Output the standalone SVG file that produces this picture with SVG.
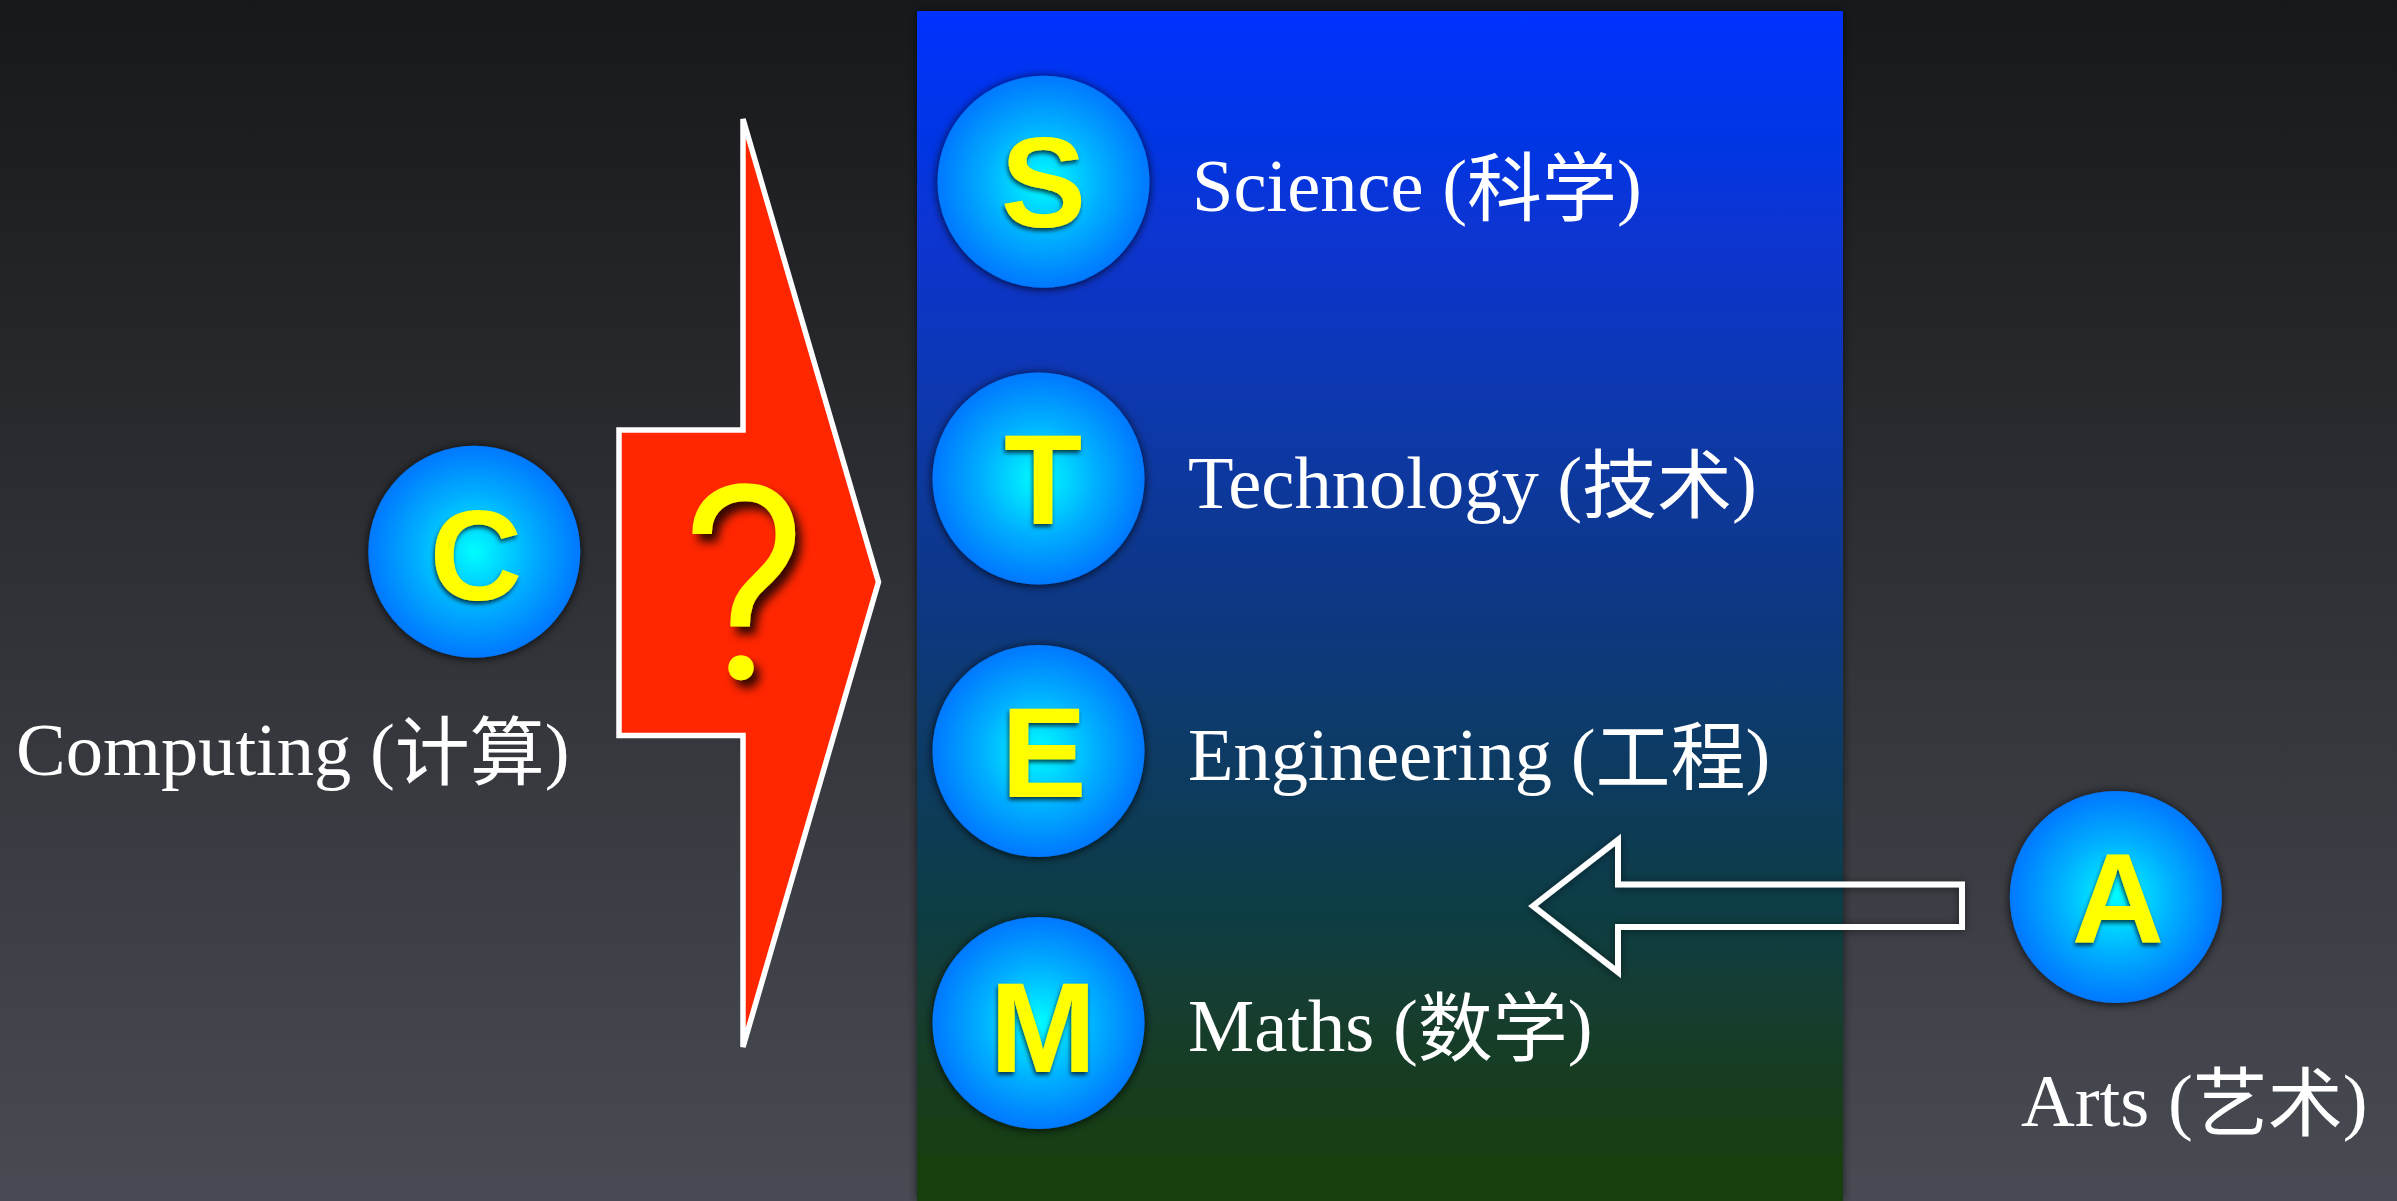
<svg xmlns="http://www.w3.org/2000/svg" width="2397" height="1201" viewBox="0 0 2397 1201">
<style>
.lbl{font-family:"Liberation Serif","Noto Sans CJK SC",serif;font-size:74.500px;fill:#fff}
.cjk{font-family:"Noto Sans CJK SC",sans-serif;font-size:75px}
.ltr{font-family:"Liberation Sans",Arial,sans-serif;font-weight:700;font-size:128px;fill:#ff0;text-anchor:middle;filter:url(#ts)}
.c{fill:url(#ball);filter:url(#cs)}
</style>
<defs>
<linearGradient id="bg" x1="0" y1="0" x2="0" y2="1"><stop offset="0" stop-color="#17181a"/><stop offset="1" stop-color="#484b53"/></linearGradient>
<linearGradient id="pn" x1="0" y1="0" x2="0" y2="1"><stop offset="0" stop-color="#0433ff"/><stop offset="1" stop-color="#153f08"/></linearGradient>
<radialGradient id="ball" cx="0.5" cy="0.5" r="0.5"><stop offset="0" stop-color="#00fdff"/><stop offset="0.55" stop-color="#00aeff"/><stop offset="1" stop-color="#0078ff"/></radialGradient>
<filter id="cs" x="-20%" y="-20%" width="140%" height="140%"><feDropShadow dx="0" dy="1" stdDeviation="5" flood-color="#000" flood-opacity=".85"/></filter>
<filter id="ts" x="-20%" y="-20%" width="140%" height="140%"><feDropShadow dx="-1" dy="3" stdDeviation="2" flood-color="#000" flood-opacity=".7"/></filter>
<filter id="qs" x="-30%" y="-20%" width="160%" height="140%"><feDropShadow dx="6" dy="8" stdDeviation="5" flood-color="#000" flood-opacity=".8"/></filter>
<filter id="ps" x="-3%" y="-3%" width="106%" height="106%"><feDropShadow dx="0" dy="0" stdDeviation="5" flood-color="#000" flood-opacity=".6"/></filter>
<filter id="as" x="-5%" y="-10%" width="110%" height="120%"><feDropShadow dx="0" dy="1" stdDeviation="4" flood-color="#000" flood-opacity=".5"/></filter>
</defs>
<rect width="2397" height="1201" fill="url(#bg)"/>
<rect id="panel" x="917" y="11" width="926" height="1190" fill="url(#pn)" filter="url(#ps)"/>
<g id="connectors">
<path id="red-arrow" d="M743 119L878.500 582L743 1047V735.500H619V430H743Z" fill="#ff2600" stroke="#fff" stroke-width="5.500"/>
<path id="arts-arrow" d="M1533 906L1618 840V884.500H1962V927H1618V972Z" fill="none" stroke="#fff" stroke-width="6" filter="url(#as)"/>
</g>
<text id="question" x="744" y="677" font-family="Roboto,sans-serif" font-weight="300" font-size="266" fill="#ff0" stroke="#ff0" stroke-width="4" text-anchor="middle" filter="url(#qs)">?</text>
<g id="node-s"><circle class="c" cx="1043.500" cy="181.700" r="106"/><text class="ltr" x="1043.500" y="227">S</text><text class="lbl" x="1192" y="211">Science (<tspan class="cjk" dy="4">科学</tspan><tspan dy="-4">)</tspan></text></g>
<g id="node-t"><circle class="c" cx="1038.500" cy="478.500" r="106"/><text class="ltr" x="1043" y="524">T</text><text class="lbl" x="1188" y="508">Technology (<tspan class="cjk" dy="4">技术</tspan><tspan dy="-4">)</tspan></text></g>
<g id="node-e"><circle class="c" cx="1038.500" cy="751" r="106"/><text class="ltr" x="1044" y="797">E</text><text class="lbl" x="1188" y="780">Engineering (<tspan class="cjk" dy="4">工程</tspan><tspan dy="-4">)</tspan></text></g>
<g id="node-m"><circle class="c" cx="1038.500" cy="1023" r="106"/><text class="ltr" x="1043" y="1072">M</text><text class="lbl" x="1188" y="1051">Maths (<tspan class="cjk" dy="4">数学</tspan><tspan dy="-4">)</tspan></text></g>
<g id="node-c"><circle class="c" cx="474.300" cy="551.700" r="106"/><text class="ltr" x="476" y="600">C</text><text class="lbl" x="16" y="775">Computing (<tspan class="cjk" dy="4">计算</tspan><tspan dy="-4">)</tspan></text></g>
<g id="node-a"><circle class="c" cx="2115.800" cy="897" r="106"/><text class="ltr" x="2118" y="943">A</text><text class="lbl" x="2021" y="1126">Arts (<tspan class="cjk" dy="4">艺术</tspan><tspan dy="-4">)</tspan></text></g>
</svg>
